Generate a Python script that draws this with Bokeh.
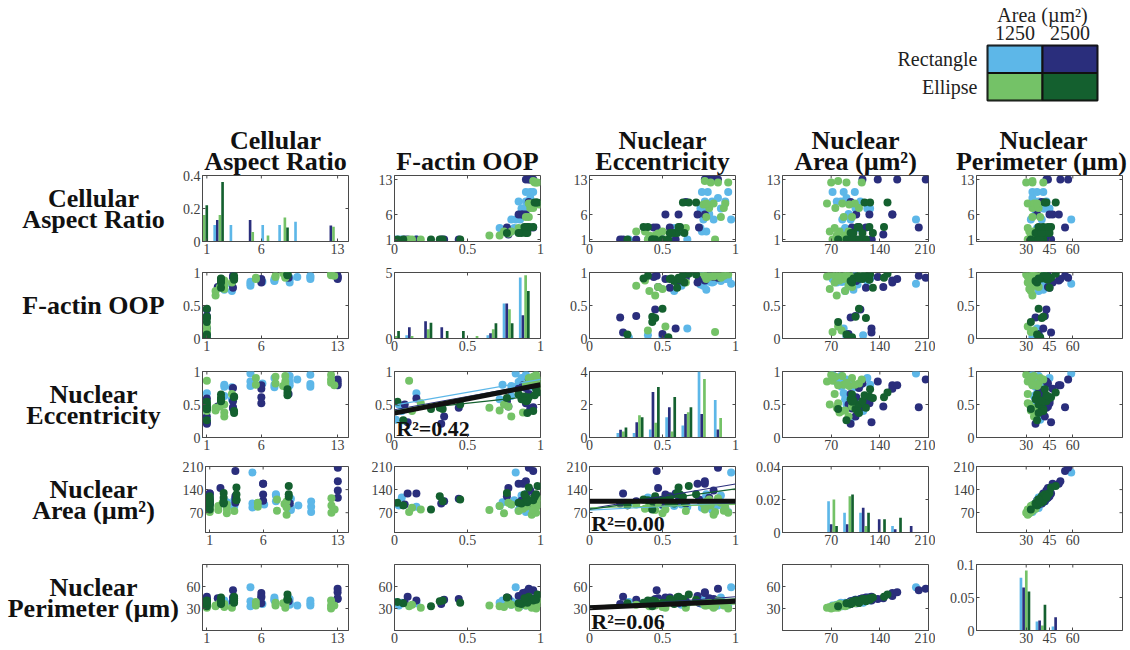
import numpy as np
from bokeh.plotting import figure
from bokeh.models import Range1d, FixedTicker, Spacer, FactorRange, Title
from bokeh.layouts import row, column
from bokeh.embed import file_html
from bokeh.resources import INLINE
from bokeh.core.properties import value

# ---------------------------------------------------------------- groups
SHAPES = ["Rectangle", "Rectangle", "Ellipse", "Ellipse"]
AREAS = ["1250", "2500", "1250", "2500"]
COLORS = ["#5db7e8", "#2a2e7c", "#74c267", "#14602f"]

# ---------------------------------------------------------------- per-cell measurements
# Rectangle, 1250 um^2
r1250_ar = [1, 1, 1, 1, 2.6, 2.6, 2.6, 3.3, 3.3, 5.0, 5.0, 5.0, 6.1, 7.2, 7.2, 7.2, 8.6, 8.6, 8.6, 9.3, 10.5, 10.5, 10.5]
r1250_oop = [0.01, 0.03, 0.15, 0.05, 0.74, 0.80, 0.86, 0.72, 0.82, 0.83, 0.86, 0.80, 0.86, 0.87, 0.90, 0.88, 0.85, 0.90, 0.92, 0.93, 0.90, 0.93, 0.95]
r1250_ecc = [0.27, 0.50, 0.67, 0.40, 0.80, 0.63, 0.77, 0.58, 0.76, 0.97, 0.85, 0.78, 0.82, 0.90, 0.80, 0.76, 0.84, 0.93, 0.79, 0.88, 0.95, 0.81, 0.77]
r1250_area = [98, 92, 88, 116, 102, 95, 85, 90, 108, 192, 86, 98, 95, 122, 126, 105, 78, 84, 112, 92, 72, 88, 104]
r1250_perim = [39, 34, 37, 38, 41, 35, 36, 38, 37, 59, 33, 40, 36, 45, 41, 42, 35, 38, 43, 34, 34, 37, 41]

# Rectangle, 2500 um^2
r2500_ar = [1, 1, 1, 1, 1, 1, 2.0, 3.4, 3.4, 3.4, 3.4, 6.0, 6.0, 6.0, 6.0, 8.5, 13, 13, 13, 13]
r2500_oop = [0.07, 0.15, 0.34, 0.32, 0.44, 0.09, 0.78, 0.77, 0.95, 0.90, 0.93, 0.87, 0.85, 0.88, 0.90, 0.92, 0.90, 0.93, 0.92, 0.95]
r2500_ecc = [0.50, 0.59, 0.32, 0.21, 0.45, 0.23, 0.47, 0.55, 0.46, 0.75, 0.44, 0.61, 0.74, 0.79, 0.52, 0.66, 0.79, 0.85, 0.88, 0.82]
r2500_area = [95, 128, 105, 98, 112, 128, 145, 120, 196, 110, 100, 106, 158, 158, 125, 98, 165, 137, 206, 115]
r2500_perim = [38, 41, 42, 36, 43, 46, 44, 45, 55, 38, 40, 37, 47, 51, 45, 40, 52, 43, 57, 44]

# Ellipse, 1250 um^2
e1250_ar = [1, 1, 1, 1.8, 1.8, 2.2, 2.6, 2.6, 2.6, 3.3, 5.5, 5.5, 7.3, 7.3, 8.0, 8.2, 8.2, 8.2, 12.4, 12.4, 12.4, 12.7]
e1250_oop = [0.10, 0.18, 0.12, 0.65, 0.72, 0.78, 0.80, 0.75, 0.88, 0.85, 0.92, 0.90, 0.95, 0.93, 0.99, 0.94, 0.97, 0.92, 0.97, 0.96, 0.98, 0.95]
e1250_ecc = [0.86, 0.52, 0.40, 0.45, 0.41, 0.47, 0.32, 0.50, 0.38, 0.66, 0.90, 0.80, 0.92, 0.82, 0.78, 0.85, 0.93, 0.80, 0.95, 0.83, 0.88, 0.79]
e1250_area = [72, 80, 85, 78, 90, 100, 95, 68, 82, 75, 100, 88, 76, 110, 96, 64, 86, 104, 70, 92, 114, 80]
e1250_perim = [33, 31, 35, 34, 33, 38, 35, 32, 36, 31, 39, 34, 34, 38, 37, 31, 35, 37, 30, 34, 41, 34]

# Ellipse, 2500 um^2
e2500_ar = [1, 1, 1, 1, 1, 1, 2.3, 2.3, 2.3, 2.3, 2.3, 3.5, 3.5, 3.5, 3.5, 8.4, 8.4, 8.4]
e2500_oop = [0.06, 0.25, 0.31, 0.33, 0.45, 0.02, 0.77, 0.87, 0.90, 0.85, 0.91, 0.92, 0.95, 0.91, 0.89, 0.97, 0.98, 0.96]
e2500_ecc = [0.26, 0.43, 0.45, 0.43, 0.50, 0.54, 0.60, 0.58, 0.55, 0.65, 0.56, 0.61, 0.40, 0.37, 0.62, 0.73, 0.68, 0.64]
e2500_area = [92, 80, 120, 105, 110, 100, 130, 98, 115, 100, 102, 146, 108, 110, 125, 126, 151, 118]
e2500_perim = [37, 33, 40, 41, 38, 39, 45, 36, 43, 37, 40, 46, 41, 38, 44, 42, 49, 43]

# ---------------------------------------------------------------- histograms (bin centres, heights per group)
ar_bins = [0.63, 2.08, 3.57, 5.09, 6.49, 8.04, 9.5, 11.0, 12.5]
ar_hist = [[0, 0.10, 0.10, 0, 0.10, 0.10, 0.12, 0, 0],
           [0, 0.13, 0, 0.13, 0, 0, 0, 0, 0.097],
           [0.16, 0.16, 0, 0.057, 0.036, 0.145, 0, 0, 0.09],
           [0.22, 0.36, 0, 0, 0, 0.085, 0, 0, 0]]

oop_bins = [0.0, 0.111, 0.222, 0.333, 0.444, 0.556, 0.667, 0.778, 0.889]
oop_hist = [[0, 0.25, 0, 0, 0, 0, 0.25, 2.65, 4.62],
            [0, 0.86, 1.31, 0.86, 0, 0, 0.40, 2.65, 1.77],
            [0.18, 0.18, 0.70, 0, 0, 0.18, 0.70, 2.22, 4.80],
            [0.56, 0, 1.19, 0.56, 0.56, 0, 1.16, 1.16, 3.59]]

ecc_bins = [0.222, 0.333, 0.444, 0.556, 0.667, 0.778, 0.889]
ecc_hist = [[0.27, 0.27, 0.49, 1.22, 0.73, 4.00, 2.27],
            [0.47, 0.92, 2.76, 1.84, 1.43, 1.43, 0.49],
            [0.37, 1.35, 0.90, 0.37, 1.53, 3.55, 1.18],
            [0.61, 1.22, 3.06, 2.45, 1.84, 0, 0]]

area_bins = [72, 95, 118, 141, 164, 187]
area_hist = [[0.019, 0.012, 0.012, 0, 0.004, 0],
             [0.005, 0.005, 0.015, 0.008, 0.002, 0.004],
             [0.020, 0.022, 0.004, 0, 0, 0],
             [0.004, 0.023, 0.012, 0.008, 0.009, 0]]

perim_bins = [29.2, 39.5, 49.8]
perim_hist = [[0.080, 0.0136, 0.006],
              [0.065, 0.015, 0.020],
              [0.091, 0.0076, 0],
              [0.059, 0.039, 0]]

# ---------------------------------------------------------------- linear fits (per group, then pooled)
ecc_oop_icpt = [0.49, 0.42, 0.40, 0.40]
ecc_oop_slope = [0.39, 0.40, 0.42, 0.24]
ecc_oop_all = (0.37, 0.43)
ecc_oop_r2 = 0.42

area_ecc_icpt = [78, 82, 85, 80]
area_ecc_slope = [22, 75, 10, 62]
area_ecc_all = (105, 0.0)
area_ecc_r2 = 0.00

perim_ecc_icpt = [33, 31, 32, 33]
perim_ecc_slope = [5, 15, 4, 10]
perim_ecc_all = (31, 9)
perim_ecc_r2 = 0.06

# ---------------------------------------------------------------- assemble
VARS = ["ar", "oop", "ecc", "area", "perim"]
DATA = [
    dict(ar=r1250_ar, oop=r1250_oop, ecc=r1250_ecc, area=r1250_area, perim=r1250_perim),
    dict(ar=r2500_ar, oop=r2500_oop, ecc=r2500_ecc, area=r2500_area, perim=r2500_perim),
    dict(ar=e1250_ar, oop=e1250_oop, ecc=e1250_ecc, area=e1250_area, perim=e1250_perim),
    dict(ar=e2500_ar, oop=e2500_oop, ecc=e2500_ecc, area=e2500_area, perim=e2500_perim),
]
HIST = {"ar": (ar_bins, ar_hist), "oop": (oop_bins, oop_hist), "ecc": (ecc_bins, ecc_hist),
        "area": (area_bins, area_hist), "perim": (perim_bins, perim_hist)}
FITS = {(2, 1): (ecc_oop_icpt, ecc_oop_slope, ecc_oop_all, ecc_oop_r2),
        (3, 2): (area_ecc_icpt, area_ecc_slope, area_ecc_all, area_ecc_r2),
        (4, 2): (perim_ecc_icpt, perim_ecc_slope, perim_ecc_all, perim_ecc_r2)}

LABELS = [["Cellular", "Aspect Ratio"], ["F-actin OOP"], ["Nuclear", "Eccentricity"],
          ["Nuclear", "Area (µm²)"], ["Nuclear", "Perimeter (µm)"]]

X_LIM = {"ar": (0.6, 14.0), "oop": (0, 1), "ecc": (0, 1), "area": (0, 210), "perim": (-2, 92)}
Y_LIM = {"ar": (0.6, 13.8), "oop": (0, 1), "ecc": (0, 1), "area": (10, 210), "perim": (0, 90)}
X_TICKS = {"ar": [1, 6, 13], "oop": [0, 0.5, 1], "ecc": [0, 0.5, 1], "area": [70, 140, 210], "perim": [30, 45, 60]}
Y_TICKS = {"ar": [1, 6, 13], "oop": [0, 0.5, 1], "ecc": [0, 0.5, 1], "area": [70, 140, 210], "perim": [30, 60]}
H_LIM = {"ar": (0, 0.4), "oop": (0, 5), "ecc": (0, 4), "area": (0, 0.04), "perim": (0, 0.1)}
H_TICKS = {"ar": [0, 0.2, 0.4], "oop": [0, 5], "ecc": [0, 2, 4], "area": [0, 0.02, 0.04], "perim": [0, 0.05, 0.1]}

SERIF = "Liberation Serif"
FRAME = "#4a4a4a"
TICK_TXT = "#404040"
INK = "#111111"
HEAD_SIZE = "26px"
TICK_LEN = 3  # px, ticks point into the box on all four sides

# layout geometry (px)
LABEL_W = 179
COL_W = [174, 195, 193, 194, 195]
LEFT_B = [23, 41, 41, 41, 41]
ROW_H = [156, 99, 95, 98, 92]
ROW_TOP = [65, 6, 6, 6, 6]
FRAME_W, FRAME_H = 146, 66


def fmt(v):
    return f"{v:g}"


def style_axes(p, xticks, yticks, xlim, ylim):
    p.xaxis.ticker = FixedTicker(ticks=xticks)
    p.yaxis.ticker = FixedTicker(ticks=yticks)
    p.xaxis.major_label_overrides = {t: fmt(t) for t in xticks}
    p.yaxis.major_label_overrides = {t: fmt(t) for t in yticks}
    for ax in (p.xaxis[0], p.yaxis[0]):
        ax.major_tick_in = TICK_LEN
        ax.major_tick_out = 0
        ax.minor_tick_line_color = None
        ax.axis_line_color = FRAME
        ax.major_tick_line_color = FRAME
        ax.major_label_text_font = SERIF
        ax.major_label_text_font_size = "14px"
        ax.major_label_text_color = TICK_TXT
    p.xaxis.major_label_standoff = 2
    p.yaxis.major_label_standoff = 2
    p.grid.visible = False
    p.outline_line_color = FRAME
    p.outline_line_width = 1
    # mirrored ticks along the top and right edges of the box
    dy = TICK_LEN * (ylim[1] - ylim[0]) / FRAME_H
    dx = TICK_LEN * (xlim[1] - xlim[0]) / FRAME_W
    xt = [t for t in xticks if xlim[0] < t < xlim[1]]
    yt = [t for t in yticks if ylim[0] < t < ylim[1]]
    p.segment(x0=xt, y0=[ylim[1]] * len(xt), x1=xt, y1=[ylim[1] - dy] * len(xt),
              line_color=FRAME, line_width=1)
    p.segment(x0=[xlim[1]] * len(yt), y0=yt, x1=[xlim[1] - dx] * len(yt), y1=yt,
              line_color=FRAME, line_width=1)


def add_column_title(p, lines, j):
    # one Title per line so that every line is centred; the first one added sits next to the frame
    if j == 4:
        align, shift = "right", [-5, 35]
    else:
        align, shift = "center", [0, 0]
    for n, line in enumerate(reversed(lines)):
        p.add_layout(Title(text=line, align=align, offset=shift[n] if len(lines) == 2 else shift[0],
                           standoff=0 if n == 0 else -20, text_font=SERIF, text_font_style="bold",
                           text_font_size=HEAD_SIZE, text_color=INK), "above")


def panel(i, j):
    w, h = COL_W[j], ROW_H[i]
    xv, yv = VARS[j], VARS[i]
    xlim = X_LIM[xv]
    ylim = H_LIM[xv] if i == j else Y_LIM[yv]
    p = figure(width=w, height=h, x_range=Range1d(*xlim), y_range=Range1d(*ylim),
               output_backend="svg", toolbar_location=None,
               min_border_left=LEFT_B[j], min_border_right=w - LEFT_B[j] - FRAME_W,
               min_border_top=ROW_TOP[i], min_border_bottom=h - ROW_TOP[i] - FRAME_H)
    style_axes(p, X_TICKS[xv], H_TICKS[xv] if i == j else Y_TICKS[yv], xlim, ylim)
    if i == 0:
        add_column_title(p, LABELS[j], j)

    if i == j:
        bins, heights = HIST[xv]
        bins = np.asarray(bins, dtype=float)
        bw = (bins[1] - bins[0]) / 6.0
        for k in range(4):
            p.vbar(x=bins + (k - 1.5) * bw, top=heights[k], width=bw, bottom=0,
                   fill_color=COLORS[k], line_color=None)
    else:
        for k in range(4):
            p.scatter(x=DATA[k][xv], y=DATA[k][yv], size=8, marker="circle",
                      fill_color=COLORS[k], line_color=None)

    if (i, j) in FITS:
        icpt, slope, pooled, r2 = FITS[(i, j)]
        xs = np.array(xlim, dtype=float)
        for k in range(4):
            p.line(xs, icpt[k] + slope[k] * xs, line_color=COLORS[k], line_width=1.2)
        p.line(xs, pooled[0] + pooled[1] * xs, line_color="#111111", line_width=5)
        y0, y1 = ylim
        x0, x1 = xlim
        p.text(x=[x0 + 0.012 * (x1 - x0)], y=[y0 + 9.0 * (y1 - y0) / FRAME_H],
               text=[f"R²={r2:.2f}"], text_font=value(SERIF), text_font_style="bold",
               text_font_size="22px", text_color=INK, text_baseline="middle",
               text_align="left")
    return p


def label_fig(i):
    # frame coincides vertically with the panels of the row (0 = frame top, 66 = frame bottom)
    h = ROW_H[i]
    f = figure(width=LABEL_W, height=h, x_range=Range1d(0, LABEL_W), y_range=Range1d(FRAME_H, 0),
               output_backend="svg", toolbar_location=None, x_axis_type=None, y_axis_type=None,
               min_border_left=0, min_border_right=0,
               min_border_top=ROW_TOP[i], min_border_bottom=h - ROW_TOP[i] - FRAME_H,
               outline_line_color=None)
    f.grid.visible = False
    lines = LABELS[i]
    mid = FRAME_H / 2
    ys = [mid] if len(lines) == 1 else [mid - 10.5, mid + 10.5]
    f.text(x=[93] * len(lines), y=ys, text=lines, text_align="center", text_baseline="middle",
           text_font=value(SERIF), text_font_style="bold", text_font_size=HEAD_SIZE, text_color=INK)
    return f


# ---------------------------------------------------------------- legend (shape x area key)
leg = figure(width=250, height=110, x_range=FactorRange(factors=["1250", "2500"]),
             y_range=FactorRange(factors=["Ellipse", "Rectangle"]), x_axis_location="above",
             output_backend="svg", toolbar_location=None,
             min_border_left=107, min_border_right=33, min_border_top=45, min_border_bottom=10)
leg.rect(x=AREAS, y=SHAPES, width=1, height=1, fill_color=COLORS, line_color="#111111", line_width=2)
leg.grid.visible = False
leg.outline_line_color = "#111111"
leg.outline_line_width = 2
leg.xaxis.axis_label = "Area (µm²)"
for ax in (leg.xaxis[0], leg.yaxis[0]):
    ax.axis_line_color = None
    ax.major_tick_line_color = None
    ax.minor_tick_line_color = None
    ax.major_label_text_font = SERIF
    ax.major_label_text_font_size = "20px"
    ax.major_label_text_color = "#222222"
    ax.major_label_standoff = 0
leg.yaxis.major_label_standoff = 4
leg.xaxis.axis_label_text_font = SERIF
leg.xaxis.axis_label_text_font_size = "20px"
leg.xaxis.axis_label_text_font_style = "normal"
leg.xaxis.axis_label_text_color = "#222222"
leg.xaxis.axis_label_standoff = -3

header = row(Spacer(width=880, height=110), leg)

# ---------------------------------------------------------------- matrix rows
rows = [row(label_fig(i), *[panel(i, j) for j in range(5)]) for i in range(5)]

layout = column(header, *rows)
open("out.html", "w").write(file_html(layout, INLINE))
